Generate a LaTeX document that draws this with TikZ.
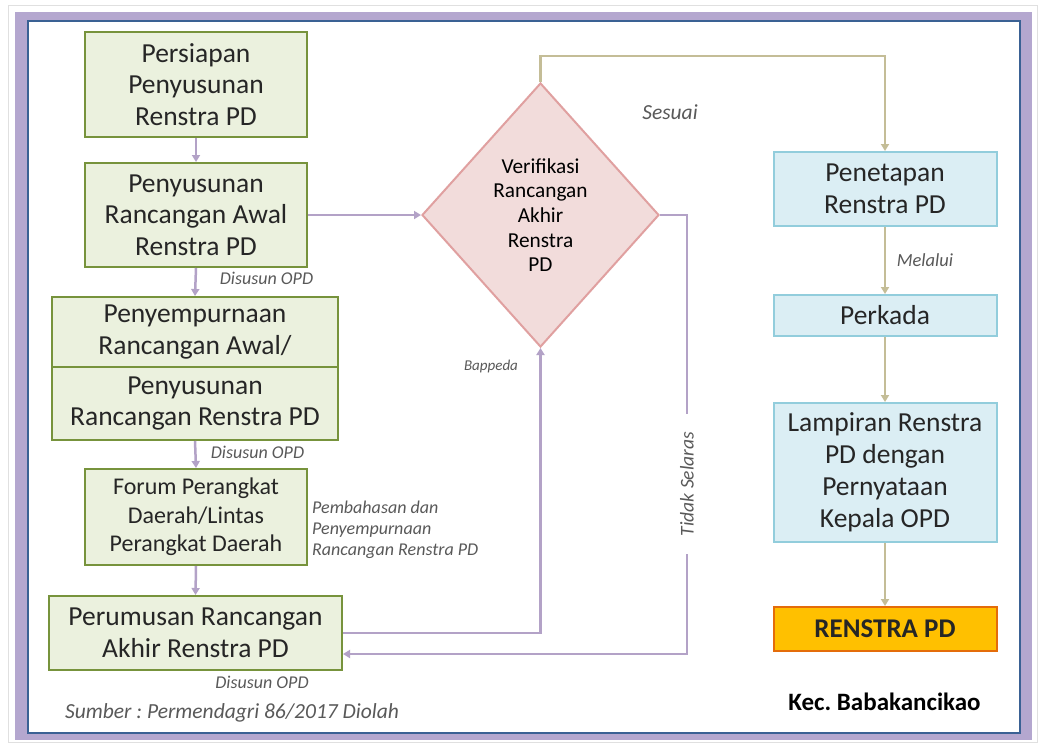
\documentclass[tikz,border=0pt]{standalone}
\usepackage{fontspec}
\setmainfont{Carlito}
\usetikzlibrary{shapes.geometric,arrows.meta}
\frenchspacing
\definecolor{gborder}{HTML}{77933C}
\definecolor{gfill}{HTML}{EBF1DE}
\definecolor{pkfill}{HTML}{F2DCDB}
\definecolor{pkborder}{HTML}{E0A0A0}
\definecolor{bfill}{HTML}{DBEEF4}
\definecolor{bborder}{HTML}{92CDDC}
\definecolor{ofill}{HTML}{FFC000}
\definecolor{oborder}{HTML}{E46C0A}
\definecolor{pline}{HTML}{B3A2C7}
\definecolor{kline}{HTML}{C4BD97}
\definecolor{framep}{HTML}{B4A7CF}
\definecolor{frameb}{HTML}{3A6194}
\definecolor{txt}{HTML}{262626}
\definecolor{lblgray}{HTML}{595959}
\begin{document}
\begin{tikzpicture}[x=1pt,y=-1pt,
  gbox/.style={draw=gborder,fill=gfill,line width=2pt,align=center,inner sep=0pt,text=txt,font=\fontsize{27.5}{31.5}\selectfont},
  bbox/.style={draw=bborder,fill=bfill,line width=2pt,align=center,inner sep=0pt,text=txt,font=\fontsize{27.5}{32}\selectfont},
  parrow/.style={draw=pline,line width=2.5pt,-{Triangle[length=7pt,width=8pt]}},
  karrow/.style={draw=kline,line width=2.5pt,-{Triangle[length=7pt,width=8pt]}},
  lbl/.style={font=\itshape\fontsize{18}{21}\selectfont,text=lblgray,inner sep=0pt}
]
\useasboundingbox (0,0) rectangle (1041,745);
% frame
\draw[draw=black!12,line width=1pt] (8,5) rectangle (1037,742);
\fill[framep] (15,12) rectangle (1032,740);
\draw[draw=frameb,fill=white,line width=2pt] (28,21) rectangle (1020,733);

% left column
\node[gbox,minimum width=222pt,minimum height=105pt] (b1) at (196,84.5) {Persiapan\\Penyusunan\\Renstra PD};
\node[gbox,minimum width=222pt,minimum height=104pt] (b2) at (196,215) {Penyusunan\\Rancangan Awal\\Renstra PD};
\node[gbox,minimum width=286pt,minimum height=70pt] (b3a) at (195,332) {Penyempurnaan\\Rancangan Awal/};
\node[gbox,minimum width=286pt,minimum height=73pt] (b3b) at (195,403.5) {Penyusunan\\Rancangan Renstra PD};
\node[gbox,minimum width=222pt,minimum height=96pt,font=\fontsize{24}{28.5}\selectfont] (b4) at (196,517) {Forum Perangkat\\Daerah/Lintas\\Perangkat Daerah};
\node[gbox,minimum width=293pt,minimum height=74pt] (b5) at (195.5,633) {Perumusan Rancangan\\Akhir Renstra PD};

% decision
\node[diamond,draw=pkborder,fill=pkfill,line width=2pt,inner sep=0pt,minimum width=237pt,minimum height=264pt,align=center,text=black,font=\fontsize{21.3}{24.7}\selectfont] (ver) at (540.5,215) {Verifikasi\\Rancangan\\Akhir\\Renstra\\PD};

% right column
\node[bbox,minimum width=223pt,minimum height=74pt] (pen) at (885,189) {Penetapan\\Renstra PD};
\node[bbox,minimum width=223pt,minimum height=41pt] (perk) at (885,315.5) {Perkada};
\node[bbox,minimum width=223pt,minimum height=139pt] (lamp) at (885,472.5) {Lampiran Renstra\\PD dengan\\Pernyataan\\Kepala OPD};
\node[draw=oborder,fill=ofill,line width=2pt,inner sep=0pt,minimum width=223pt,minimum height=44pt,text=txt,font=\bfseries\fontsize{27}{30}\selectfont] (ren) at (885,629) {RENSTRA PD};

% connectors left
\draw[parrow] (b1) -- (b2);
\draw[parrow] (b2.south) -- (b3a.north);
\draw[parrow] (b3b.south) -- (b4.north);
\draw[parrow] (b4.south) -- (b5.north);
\draw[parrow] (b2.east) -- (ver.west);
\draw[parrow] (b5.east) -| (ver.south);
\coordinate (tsc) at (687,654);
\draw[parrow] (ver.east) -| (tsc) -- ([yshift=-21pt]b5.east);
\draw[karrow] (ver.north) -- ++(0,-26) -| (pen.north);
\draw[karrow] (pen) -- (perk);
\draw[karrow] (perk) -- (lamp);
\draw[karrow] (lamp) -- (ren);

% labels
\node[lbl] (l1) at (266.5,278) {Disusun OPD};
\node[lbl] (l2) at (257.5,452) {Disusun OPD};
\node[lbl] (l3) at (262,682) {Disusun OPD};
\node[lbl,anchor=west,align=left,font=\itshape\fontsize{18}{21}\selectfont] (l4) at (312,530) {Pembahasan dan\\Penyempurnaan\\Rancangan Renstra PD};
\node[lbl,font=\itshape\fontsize{21.5}{24}\selectfont] (l5) at (670,112) {Sesuai};
\node[lbl,font=\itshape\fontsize{18.5}{22}\selectfont] (l6) at (925,260) {Melalui};
\node[lbl,font=\itshape\fontsize{15}{18}\selectfont] (l7) at (491,366) {Bappeda};
\node[lbl,fill=white,rotate=90,inner xsep=18pt,inner ysep=3pt,font=\itshape\fontsize{19.5}{22}\selectfont] (l8) at (687,484) {Tidak Selaras};
\node[lbl,font=\itshape\fontsize{21.5}{24}\selectfont] (src) at (232,713) {Sumber : Permendagri 86/2017 Diolah};
\node[inner sep=0pt,text=black,font=\bfseries\fontsize{25}{28}\selectfont] (kec) at (884.5,702) {Kec. Babakancikao};
\end{tikzpicture}
\end{document}
